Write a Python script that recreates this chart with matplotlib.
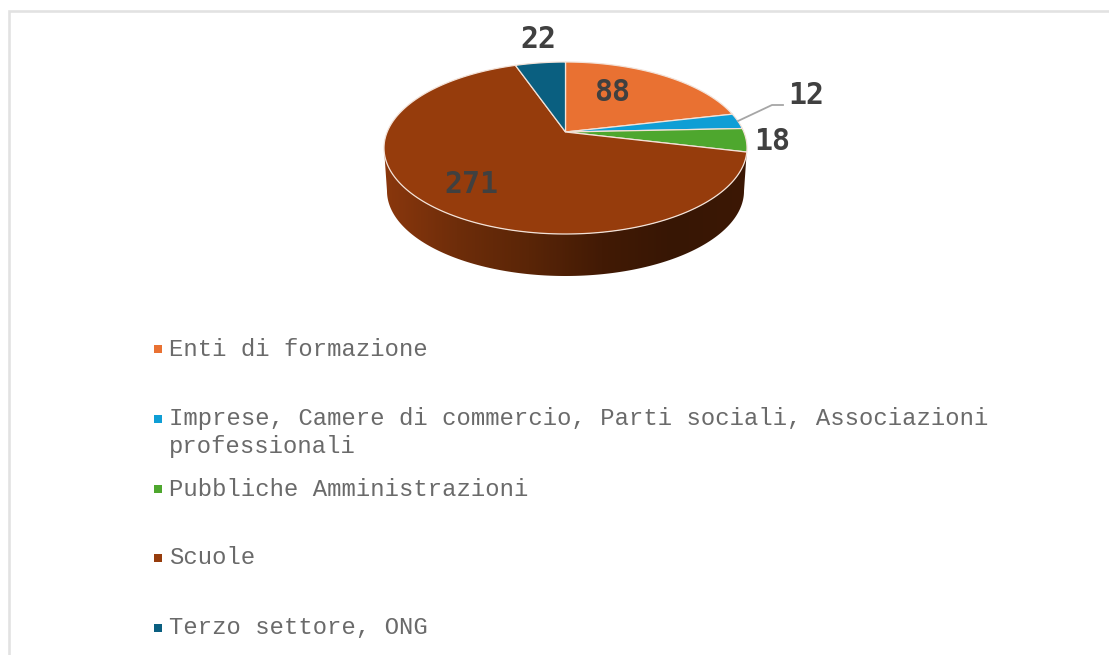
import numpy as np
import matplotlib
matplotlib.use('Agg')
import matplotlib.pyplot as plt
from matplotlib.colors import LinearSegmentedColormap
from matplotlib.patches import Polygon

categories = ['Enti di formazione',
              'Imprese, Camere di commercio, Parti sociali, Associazioni\nprofessionali',
              'Pubbliche Amministrazioni',
              'Scuole',
              'Terzo settore, ONG']
values = [88, 12, 18, 271, 22]
colors = ['#E97132', '#0F9ED5', '#4EA72E', '#963C0C', '#0A5F80']

# pie geometry in pixels, y going down
cx, cy, a, b = 565.5, 148, 181.5, 86
tilt = 16 / b   # apex sits above the ellipse centre (perspective)
wall_cy, wall_a, wall_b = 191, 178.5, 85


def project(theta):
    x = np.sin(theta)
    y = np.cos(theta)
    den = 1 + tilt * y
    xp = x * np.sqrt(1 - tilt ** 2) / den
    yp = (y + tilt) / den
    return cx + a * xp, cy - b * yp


fig = plt.figure(figsize=(11.09, 6.55), dpi=100)
ax = fig.add_axes([0, 0, 1, 1])
ax.axis('off')

# frame of the chart area
ax.plot([9, 9, 1109], [655, 11.3, 11.3], color='#E2E2E2', lw=1.9, solid_joinstyle='miter')

# side wall
t = np.linspace(-np.pi / 2, np.pi / 2, 200)
wall_pts = np.column_stack([
    np.r_[cx + a * np.sin(t), cx + wall_a * np.sin(t[::-1])],
    np.r_[cy + b * np.cos(t), wall_cy + wall_b * np.cos(t[::-1])],
])
wall_cmap = LinearSegmentedColormap.from_list(
    'wall', ['#8A370D', '#6E2D0A', '#5A2507', '#421A05', '#371604', '#3C1805'])
im = ax.imshow(np.linspace(0, 1, 256).reshape(1, -1), cmap=wall_cmap, aspect='auto',
               extent=[cx - a, cx + a, 280, 140], zorder=2)
clip = Polygon(wall_pts, transform=ax.transData, fc='none', ec='none')
ax.add_patch(clip)
im.set_clip_path(clip)

# top of the pie
edges = np.r_[0, np.cumsum(values)] / sum(values) * 2 * np.pi
apex_x, apex_y = cx, cy - b * tilt
for i, c in enumerate(colors):
    th = np.linspace(edges[i], edges[i + 1], 200)
    px, py = project(th)
    ax.fill(np.r_[apex_x, px], np.r_[apex_y, py], facecolor=c, edgecolor='#F3E2D8',
            lw=0.9, zorder=3)

# data labels
label_font = dict(family='DejaVu Sans Mono', weight='bold', size=21.5, color='#404040',
                  ha='center', va='center', zorder=5)
label_pos = [(612.5, 92.5), (806, 95.5), (772.5, 141.5), (471.5, 184.5), (538, 39.5)]
for v, (lx, ly) in zip(values, label_pos):
    ax.text(lx, ly, str(v), **label_font)
ax.plot([738, 772, 783], [121, 105, 105], color='#A6A6A6', lw=1.3, zorder=4)

# legend
legend_y = [349, 419, 489, 558, 628]
for name, c, ly in zip(categories, colors, legend_y):
    ax.scatter([157.5], [ly], marker='s', s=26, color=c, linewidths=0, zorder=4)
    parts = name.split('\n')
    for j, part in enumerate(parts):
        ax.text(169, ly + j * 27, part, family='Liberation Mono', size=17.2,
                color='#6A6A6A', ha='left', va='center')

ax.set_xlim(0, 1109)
ax.set_ylim(655, 0)
fig.savefig('out.png', dpi=100, facecolor='white')
